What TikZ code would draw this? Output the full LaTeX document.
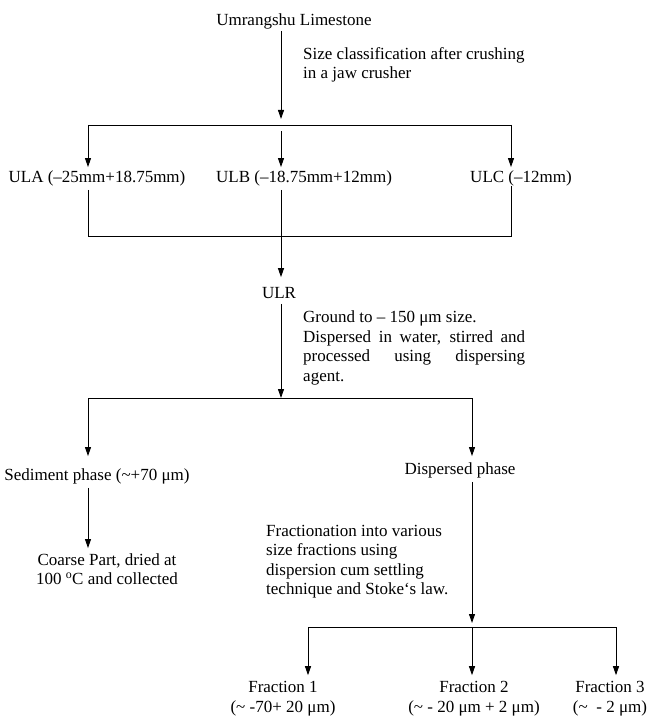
\documentclass[tikz,border=0pt]{standalone}
\usepackage{fontspec}
\setmainfont{Liberation Serif}
\usetikzlibrary{arrows.meta}
\begin{document}
\begin{tikzpicture}[>={Triangle[length=9bp,width=6bp]},x=1bp,y=-1bp,
	txt/.style={inner sep=0pt,font=\fontsize{17bp}{19.5bp}\selectfont},
	note/.style={txt,anchor=north west,align=left},
	flow/.style={line width=0.9bp}]
	\useasboundingbox (0,0) rectangle (658,718);
	% crushing and size classes
	\node[txt] (lime) at (294,21) {Umrangshu Limestone};
	\node[note] (crush) at (303,47) {Size classification after crushing\\in a jaw crusher};
	\coordinate (j1) at (281,125);
	\coordinate (ja) at (88,125);
	\coordinate (jc) at (511,125);
	\node[txt] (ula) at (97,178) {ULA (–25mm+18.75mm)};
	\node[txt] (ulb) at (304,178) {ULB (–18.75mm+12mm)};
	\node[txt] (ulc) at (521,178) {ULC (–12mm)};
	\draw[flow,->,shorten <=2bp,shorten >=6bp] (lime.south -| j1) -- (j1);
	\draw[flow] (ja) -- (jc);
	\draw[flow,->,shorten >=3bp] (ja) -- (ja |- ula.north);
	\draw[flow,->,shorten <=6bp,shorten >=3bp] (j1) -- (j1 |- ulb.north);
	\draw[flow,->,shorten >=3bp] (jc) -- (jc |- ulc.north);
	% mixing back to ULR
	\coordinate (k1) at (281,236);
	\coordinate (ka) at (88,236);
	\coordinate (kc) at (511,236);
	\node[txt] (ulr) at (279,293) {ULR};
	\draw[flow,shorten <=4bp] (ula.south -| ka) -- (ka) -- (kc) -- (ulc.south -| kc);
	\draw[flow,shorten <=4bp] (ulb.south -| k1) -- (k1);
	\draw[flow,->,shorten >=10bp] (k1) -- (k1 |- ulr.north);
	% grinding and dispersion
	\coordinate (m1) at (281,398);
	\coordinate (ma) at (88,398);
	\coordinate (mc) at (472,398);
	\node[note,text width=222bp,align=justify] (grind) at (303,311) {Ground to – 150 μm size.\par\noindent
		Dispersed in water, stirred and\linebreak processed using dispersing\linebreak agent.};
	\node[txt] (sed) at (97,476) {Sediment phase (\textasciitilde+70 μm)};
	\node[txt] (disp) at (460,470) {Dispersed phase};
	\draw[flow,->,shorten <=5bp] (ulr.south -| m1) -- (m1);
	\draw[flow] (ma) -- (mc);
	\draw[flow,->,shorten >=12bp] (ma) -- (ma |- sed.north);
	\draw[flow,->,shorten >=6bp] (mc) -- (mc |- disp.north);
	% coarse part
	\node[txt,align=center] (coarse) at (107,569) {Coarse Part, dried at\\100 \textsuperscript{o}C and collected};
	\draw[flow,->,shorten <=4bp,shorten >=5bp] (ma |- sed.south) -- (ma |- coarse.north);
	% fractionation
	\coordinate (n1) at (472,627);
	\coordinate (na) at (308,627);
	\coordinate (nc) at (616,627);
	\node[note] (fract) at (266,525) {Fractionation into various\\size fractions using\\dispersion cum settling\\technique and Stoke`s law.};
	\node[txt,align=center,anchor=south] (fr1) at (283,716) {Fraction 1\\(\textasciitilde\ -70+ 20 μm)};
	\node[txt,align=center,anchor=south] (fr2) at (474,716) {Fraction 2\\(\textasciitilde\ - 20 μm + 2 μm)};
	\node[txt,align=center,anchor=south] (fr3) at (610,716) {Fraction 3\\(\textasciitilde\ \ - 2 μm)};
	\draw[flow,->,shorten <=4bp,shorten >=4bp] (disp.south -| n1) -- (n1);
	\draw[flow] (na) -- (nc);
	\draw[flow,->,shorten >=6bp] (na) -- (na |- fr1.north);
	\draw[flow,->,shorten >=6bp] (n1) -- (n1 |- fr2.north);
	\draw[flow,->,shorten >=6bp] (nc) -- (nc |- fr3.north);
\end{tikzpicture}
\end{document}
